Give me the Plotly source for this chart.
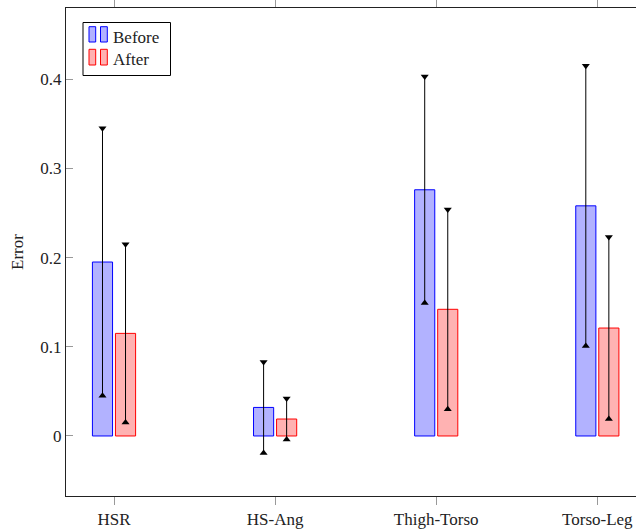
import plotly.graph_objects as go

# ---- data ----
categories = ["HSR", "HS-Ang", "Thigh-Torso", "Torso-Leg"]
before_mean = [0.195, 0.032, 0.276, 0.258]
before_err = [0.150, 0.051, 0.127, 0.157]
after_mean = [0.115, 0.019, 0.142, 0.121]
after_err = [0.100, 0.023, 0.112, 0.102]
y_ticks = [0, 0.1, 0.2, 0.3, 0.4]
y_tick_labels = ["0", "0.1", "0.2", "0.3", "0.4"]

# ---- layout constants ----
W, H = 636, 529
ML, MR, MT, MB = 66, 0, 8, 33
FONT = "Liberation Serif"
FS = 17
TXT = "#222"
SHIFT = 0.0715
BW = 0.125

BLUE_FILL = "rgba(0,0,255,0.3)"
RED_FILL = "rgba(255,0,0,0.3)"

idx = list(range(len(categories)))
fig = go.Figure()

series = [
    ("Before", before_mean, before_err, -SHIFT, BLUE_FILL, "rgb(0,0,255)"),
    ("After", after_mean, after_err, SHIFT, RED_FILL, "rgb(255,0,0)"),
]

for name, mean, err, sh, fill, line in series:
    xs = [i + sh for i in idx]
    fig.add_trace(go.Bar(
        x=xs, y=mean, width=BW, name=name,
        marker=dict(color=fill, line=dict(color=line, width=1)),
        showlegend=False,
    ))

for name, mean, err, sh, fill, line in series:
    xs = [i + sh for i in idx]
    fig.add_trace(go.Scatter(
        x=xs, y=mean, mode="markers", marker=dict(size=1, opacity=0),
        error_y=dict(type="data", array=err, visible=True, color="black",
                     thickness=1, width=0),
        showlegend=False, hoverinfo="skip",
    ))
    fig.add_trace(go.Scatter(
        x=xs, y=[m + e for m, e in zip(mean, err)], mode="markers",
        marker=dict(symbol="triangle-down", size=7, color="black",
                    line=dict(width=0)),
        showlegend=False,
    ))
    fig.add_trace(go.Scatter(
        x=xs, y=[m - e for m, e in zip(mean, err)], mode="markers",
        marker=dict(symbol="triangle-up", size=7, color="black",
                    line=dict(width=0)),
        showlegend=False,
    ))

# pixel -> paper helpers
PW, PH = W - ML - MR, H - MT - MB
def px(x):
    return (x - ML) / PW
def py(y):
    return (H - MB - y) / PH

shapes = []
# legend box
shapes.append(dict(type="rect", xref="paper", yref="paper",
                   x0=px(83), x1=px(170.5), y0=py(75.5), y1=py(22.5),
                   line=dict(color="black", width=1), fillcolor="white",
                   layer="above"))
for (y0, y1), fill, line in [((26.7, 42), BLUE_FILL, "rgb(0,0,255)"),
                             ((49.3, 65), RED_FILL, "rgb(255,0,0)")]:
    for (x0, x1) in [(89, 95.7), (100.5, 107.3)]:
        shapes.append(dict(type="rect", xref="paper", yref="paper",
                           x0=px(x0), x1=px(x1), y0=py(y1), y1=py(y0),
                           line=dict(color=line, width=1), fillcolor=fill,
                           layer="above"))

annotations = [
    dict(text="Before", xref="paper", yref="paper", x=px(111), y=py(37),
         xanchor="left", yanchor="middle", showarrow=False,
         font=dict(family=FONT, size=FS, color=TXT)),
    dict(text="After", xref="paper", yref="paper", x=px(111), y=py(59.5),
         xanchor="left", yanchor="middle", showarrow=False,
         font=dict(family=FONT, size=FS, color=TXT)),
]

fig.update_layout(
    width=W, height=H,
    margin=dict(l=ML, r=MR, t=MT, b=MB, pad=0),
    paper_bgcolor="white", plot_bgcolor="white",
    barmode="overlay",
    font=dict(family=FONT, size=FS, color=TXT),
    shapes=shapes, annotations=annotations,
    showlegend=False,
)
fig.update_xaxes(
    range=[-0.298, 3.240],
    tickmode="array", tickvals=idx, ticktext=categories,
    showline=True, linecolor="#222", linewidth=1, mirror="ticks",
    ticks="outside", ticklen=8, tickcolor="#999", tickwidth=1,
    showgrid=False, zeroline=False,
    tickfont=dict(family=FONT, size=FS, color=TXT),
)
fig.update_yaxes(
    range=[-0.0673, 0.4798],
    tickmode="array", tickvals=y_ticks, ticktext=y_tick_labels,
    showline=True, linecolor="#222", linewidth=1, mirror=False,
    ticks="inside", ticklen=7, tickcolor="#999", tickwidth=1,
    showgrid=False, zeroline=False,
    title=dict(text="Error", standoff=12, font=dict(family=FONT, size=FS, color=TXT)),
    tickfont=dict(family=FONT, size=FS, color=TXT),
)

fig.write_html(
    "out.html",
    config={"displayModeBar": False},
    post_script="document.body.style.margin='0';document.body.style.overflow='hidden';",
)
